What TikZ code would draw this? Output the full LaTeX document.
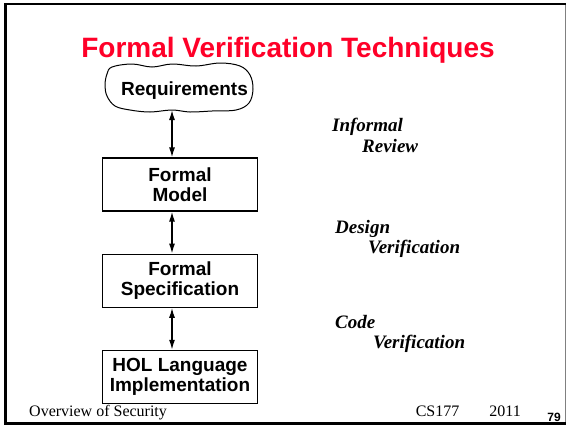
\documentclass[tikz,border=0pt]{standalone}
\usepackage{fontspec}
\setmainfont{Liberation Serif}
\setsansfont{Liberation Sans}
\usepackage{tikz}
\usetikzlibrary{arrows.meta,positioning}
\definecolor{titlered}{RGB}{255,0,40}

\begin{document}
\begin{tikzpicture}[
		x = 1pt, y = -1pt,
		node distance = 42pt,
		>= {Latex[length=10pt,width=6pt]},
		stage/.style = {draw, line width=1.2pt, minimum width=155pt, minimum height=53pt,
			inner sep=0pt, align=center, font=\sffamily\bfseries\fontsize{19}{20}\selectfont},
		link/.style = {<->, line width=1.4pt},
		tech/.style = {anchor=base west, inner sep=0pt, font=\bfseries\itshape\fontsize{19}{21}\selectfont},
		foot/.style = {inner sep=0pt, font=\fontsize{16}{18}\selectfont}
	]

	\useasboundingbox (0,0) rectangle (568,426);

	% slide frame
	\draw[gray, line width=1pt] (565,4) -- (565,423);
	\draw[line width=2pt] (4,4) -- (566,4);
	\draw[line width=3pt] (5.5,3) -- (5.5,423) -- (566,423);

	\node[anchor=base, inner sep=0pt, text=titlered, font=\sffamily\bfseries\fontsize{28}{30}\selectfont]
		(title) at (288,57) {Formal Verification Techniques};

	% requirements cloud
	\node[anchor=base, inner sep=0pt, font=\sffamily\bfseries\fontsize{19}{20}\selectfont]
		(req) at (184.5,95) {Requirements};
	\draw[line width=1pt] plot[smooth cycle, tension=0.6] coordinates {
		(112,67) (132,64) (152,67) (172,64) (196,66) (220,63) (240,66) (250,75)
		(253,89) (249,103) (236,110) (212,111) (190,112) (172,110) (150,112)
		(130,110) (115,106) (107,96) (105,85) (107,74)};
	\coordinate (reqb) at (172,110);

	% the three levels
	\node[stage] (fm) at (180,184.5) {Formal\\Model};
	\node[stage, below=of fm] (fs) {Formal\\Specification};
	\node[stage, below=of fs] (hol) {HOL Language\\Implementation};

	\draw[link] (reqb) -- (fm.north -| reqb);
	\foreach \a/\b in {fm/fs, fs/hol}
		\draw[link] (\a.south -| reqb) -- (\b.north -| reqb);

	% what links each pair
	\node[tech] (inf) at (332,131) {Informal};
	\node[tech] (rev) at (362,152) {Review};
	\node[tech] (des) at (335,233) {Design};
	\node[tech] (dver) at (368,253) {Verification};
	\node[tech] (code) at (335,328) {Code};
	\node[tech] (cver) at (373,348) {Verification};

	% footer
	\node[foot, anchor=base west] (course) at (29,416) {Overview of Security};
	\node[foot, anchor=base east] (term) at (521,416) {CS177\hspace{30pt}2011};
	\node[anchor=base east, inner sep=0pt, font=\sffamily\bfseries\fontsize{12}{12}\selectfont]
		(page) at (561,421) {79};

\end{tikzpicture}
\end{document}
